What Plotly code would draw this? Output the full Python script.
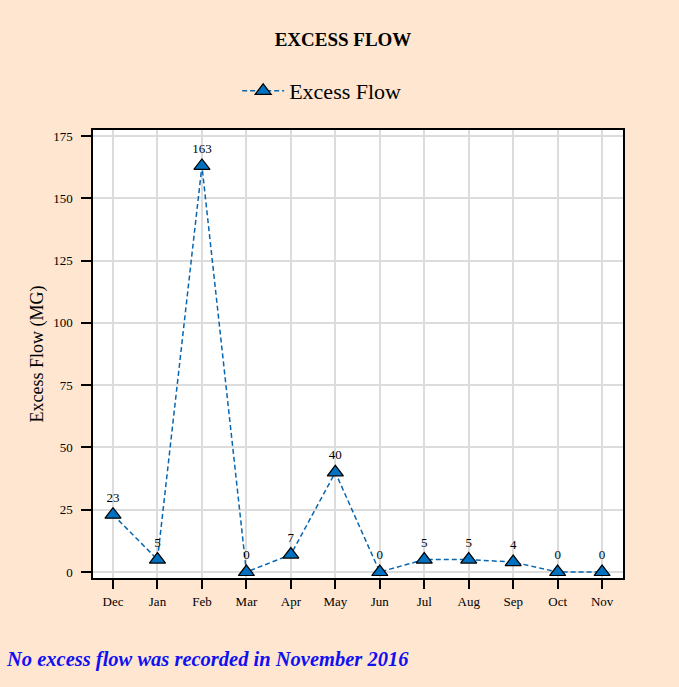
import plotly.graph_objects as go

months = ["Dec", "Jan", "Feb", "Mar", "Apr", "May", "Jun", "Jul", "Aug", "Sep", "Oct", "Nov"]
excess_flow = [23, 5, 163, 0, 7, 40, 0, 5, 5, 4, 0, 0]
y_ticks = [0, 25, 50, 75, 100, 125, 150, 175]

SERIF = "Liberation Serif, Times New Roman, serif"
BG = "#FEE6D0"

fig = go.Figure()
fig.add_trace(go.Scatter(
    x=list(range(len(months))),
    y=excess_flow,
    mode="lines+markers+text",
    name="Excess Flow",
    line=dict(color="#0866b0", width=1.5, dash="5px,3px"),
    marker=dict(symbol="triangle-up", size=14, color="#0070C0",
                line=dict(color="black", width=1.2)),
    text=[str(v) for v in excess_flow],
    textposition="top center",
    textfont=dict(family=SERIF, size=13, color="black"),
    cliponaxis=False,
))

fig.update_layout(
    width=679, height=687,
    paper_bgcolor=BG,
    plot_bgcolor="white",
    margin=dict(l=93, r=56, t=130, b=109),
    title=dict(text="<b>EXCESS FLOW</b>", x=(343 - 93) / 530, xanchor="center", xref="paper",
               y=1 - 39 / 687, yanchor="middle",
               font=dict(family=SERIF, size=19, color="black")),
    showlegend=True,
    legend=dict(orientation="h", x=0.272, xanchor="left", y=1.087, yanchor="middle",
                itemwidth=42,
                bgcolor="rgba(0,0,0,0)",
                font=dict(family=SERIF, size=22, color="black")),
    font=dict(family=SERIF, color="black"),
)

fig.update_xaxes(
    range=[-0.45, 11.47],
    tickmode="array",
    tickvals=list(range(len(months))),
    ticktext=months,
    ticks="outside", ticklen=9, tickcolor="black", tickwidth=1.5,
    ticklabelstandoff=2,
    tickfont=dict(family=SERIF, size=13, color="black"),
    showgrid=True, gridcolor="#dcdcdc", gridwidth=1.5,
    showline=True, linecolor="black", linewidth=1.5, mirror=True,
    zeroline=False,
)
fig.update_yaxes(
    range=[-2.4, 177.4],
    tickmode="array",
    tickvals=y_ticks,
    ticks="outside", ticklen=10, tickcolor="black", tickwidth=1.5,
    ticklabelstandoff=6,
    tickfont=dict(family=SERIF, size=13, color="black"),
    showgrid=True, gridcolor="#dcdcdc", gridwidth=1.5,
    showline=True, linecolor="black", linewidth=1.5, mirror=True,
    zeroline=False,
    title=dict(text="Excess Flow (MG)", font=dict(family=SERIF, size=18, color="black"),
               standoff=5),
)

fig.add_annotation(
    text="<b><i>No excess flow was recorded in November 2016</i></b>",
    xref="paper", yref="paper", x=-89 / 530, xanchor="left",
    y=-(659 - 578) / 448, yanchor="middle",
    showarrow=False,
    font=dict(family=SERIF, size=20.5, color="#1010F0"),
)

fig.write_html("out.html")
